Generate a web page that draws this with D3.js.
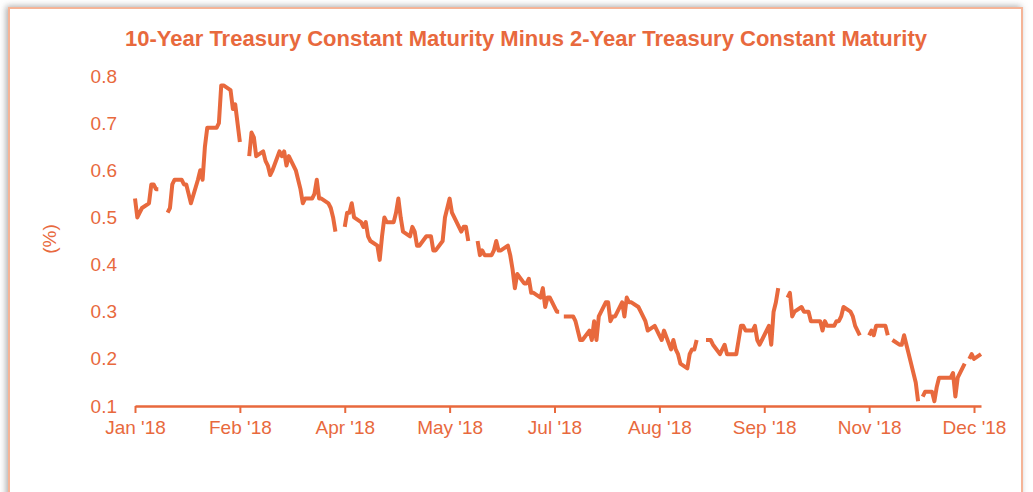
<!DOCTYPE html>
<html><head><meta charset="utf-8">
<script src="https://cdn.jsdelivr.net/npm/d3@7"></script>
<style>body{margin:0;background:#fff;overflow:hidden}</style>
</head><body>
<svg id="chart" width="1033" height="492"></svg>
<script>
const title = "10-Year Treasury Constant Maturity Minus 2-Year Treasury Constant Maturity";
const yLabel = "(%)";
const yTicks = [0.1, 0.2, 0.3, 0.4, 0.5, 0.6, 0.7, 0.8];
const xTicks = ["2018-01-02","2018-02-16","2018-04-02","2018-05-17","2018-07-01","2018-08-15","2018-09-29","2018-11-13","2018-12-28"];

const dates = [
"2018-01-02","2018-01-03","2018-01-04","2018-01-05","2018-01-08","2018-01-09","2018-01-10","2018-01-11","2018-01-12","2018-01-15","2018-01-16","2018-01-17","2018-01-18","2018-01-19","2018-01-22","2018-01-23","2018-01-24","2018-01-25","2018-01-26","2018-01-29","2018-01-30","2018-01-31",
"2018-02-01","2018-02-02","2018-02-05","2018-02-06","2018-02-07","2018-02-08","2018-02-09","2018-02-12","2018-02-13","2018-02-14","2018-02-15","2018-02-16","2018-02-19","2018-02-20","2018-02-21","2018-02-22","2018-02-23","2018-02-26","2018-02-27","2018-02-28",
"2018-03-01","2018-03-02","2018-03-05","2018-03-06","2018-03-07","2018-03-08","2018-03-09","2018-03-12","2018-03-13","2018-03-14","2018-03-15","2018-03-16","2018-03-19","2018-03-20","2018-03-21","2018-03-22","2018-03-23","2018-03-26","2018-03-27","2018-03-28","2018-03-29","2018-03-30",
"2018-04-02","2018-04-03","2018-04-04","2018-04-05","2018-04-06","2018-04-09","2018-04-10","2018-04-11","2018-04-12","2018-04-13","2018-04-16","2018-04-17","2018-04-18","2018-04-19","2018-04-20","2018-04-23","2018-04-24","2018-04-25","2018-04-26","2018-04-27","2018-04-30",
"2018-05-01","2018-05-02","2018-05-03","2018-05-04","2018-05-07","2018-05-08","2018-05-09","2018-05-10","2018-05-11","2018-05-14","2018-05-15","2018-05-16","2018-05-17","2018-05-18","2018-05-21","2018-05-22","2018-05-23","2018-05-24","2018-05-25","2018-05-28","2018-05-29","2018-05-30","2018-05-31",
"2018-06-01","2018-06-04","2018-06-05","2018-06-06","2018-06-07","2018-06-08","2018-06-11","2018-06-12","2018-06-13","2018-06-14","2018-06-15","2018-06-18","2018-06-19","2018-06-20","2018-06-21","2018-06-22","2018-06-25","2018-06-26","2018-06-27","2018-06-28","2018-06-29",
"2018-07-02","2018-07-03","2018-07-04","2018-07-05","2018-07-06","2018-07-09","2018-07-10","2018-07-11","2018-07-12","2018-07-13","2018-07-16","2018-07-17","2018-07-18","2018-07-19","2018-07-20","2018-07-23","2018-07-24","2018-07-25","2018-07-26","2018-07-27","2018-07-30","2018-07-31",
"2018-08-01","2018-08-02","2018-08-03","2018-08-06","2018-08-07","2018-08-08","2018-08-09","2018-08-10","2018-08-13","2018-08-14","2018-08-15","2018-08-16","2018-08-17","2018-08-20","2018-08-21","2018-08-22","2018-08-23","2018-08-24","2018-08-27","2018-08-28","2018-08-29","2018-08-30","2018-08-31",
"2018-09-03","2018-09-04","2018-09-05","2018-09-06","2018-09-07","2018-09-10","2018-09-11","2018-09-12","2018-09-13","2018-09-14","2018-09-17","2018-09-18","2018-09-19","2018-09-20","2018-09-21","2018-09-24","2018-09-25","2018-09-26","2018-09-27","2018-09-28",
"2018-10-01","2018-10-02","2018-10-03","2018-10-04","2018-10-05","2018-10-08","2018-10-09","2018-10-10","2018-10-11","2018-10-12","2018-10-15","2018-10-16","2018-10-17","2018-10-18","2018-10-19","2018-10-22","2018-10-23","2018-10-24","2018-10-25","2018-10-26","2018-10-29","2018-10-30","2018-10-31",
"2018-11-01","2018-11-02","2018-11-05","2018-11-06","2018-11-07","2018-11-08","2018-11-09","2018-11-12","2018-11-13","2018-11-14","2018-11-15","2018-11-16","2018-11-19","2018-11-20","2018-11-21","2018-11-22","2018-11-23","2018-11-26","2018-11-27","2018-11-28","2018-11-29","2018-11-30",
"2018-12-03","2018-12-04","2018-12-05","2018-12-06","2018-12-07","2018-12-10","2018-12-11","2018-12-12","2018-12-13","2018-12-14","2018-12-17","2018-12-18","2018-12-19","2018-12-20","2018-12-21","2018-12-24","2018-12-25","2018-12-26","2018-12-27","2018-12-28","2018-12-31"
];

const spread = [
0.54,0.50,0.51,0.52,0.53,0.57,0.57,0.56,0.56,null,0.51,0.52,0.57,0.58,0.58,0.57,0.57,0.55,0.53,0.58,0.60,0.58,
0.65,0.69,0.69,0.69,0.70,0.78,0.78,0.77,0.73,0.74,0.70,0.66,null,0.63,0.68,0.67,0.63,0.64,0.62,0.61,
0.59,0.60,0.64,0.63,0.64,0.61,0.63,0.60,0.58,0.56,0.53,0.54,0.54,0.55,0.58,0.54,0.54,0.53,0.52,0.50,0.47,null,
0.48,0.51,0.51,0.53,0.50,0.49,0.48,0.49,0.46,0.45,0.44,0.41,0.46,0.50,0.49,0.49,0.51,0.54,0.50,0.47,0.46,
0.48,0.47,0.44,0.44,0.46,0.46,0.46,0.43,0.43,0.45,0.50,0.52,0.54,0.51,0.48,0.47,0.48,0.48,0.45,null,0.45,0.42,0.43,
0.42,0.42,0.43,0.45,0.43,0.43,0.44,0.42,0.39,0.35,0.38,0.36,0.36,0.37,0.34,0.34,0.33,0.35,0.31,0.33,0.33,
0.30,0.30,null,0.29,0.29,0.29,0.28,0.26,0.24,0.24,0.26,0.24,0.28,0.24,0.29,0.32,0.32,0.28,0.29,0.29,0.32,0.29,
0.33,0.32,0.32,0.31,0.30,0.29,0.28,0.26,0.27,0.26,0.25,0.24,0.26,0.22,0.24,0.22,0.21,0.19,0.18,0.21,0.22,0.22,0.24,
null,0.24,0.24,0.24,0.23,0.21,0.22,0.23,0.21,0.21,0.21,0.24,0.27,0.27,0.26,0.26,0.27,0.24,0.23,0.24,
0.27,0.23,0.30,0.32,0.35,null,0.33,0.34,0.29,0.30,0.31,0.30,0.30,0.30,0.28,0.28,0.28,0.26,0.28,0.27,0.27,0.28,0.28,
0.29,0.31,0.30,0.29,0.27,0.26,0.25,null,0.25,0.26,0.25,0.27,0.27,0.27,0.25,null,0.24,0.23,0.23,0.25,0.23,0.21,
0.15,0.11,null,0.12,0.13,0.13,0.11,0.14,0.16,0.16,0.16,0.16,0.17,0.12,0.16,0.19,null,0.20,0.21,0.20,0.21
];

const color = "#E8693D";
const parse = d3.timeParse("%Y-%m-%d");
const data = dates.map((d, i) => ({ date: parse(d), value: spread[i] }));

const svg = d3.select("#chart");
const defs = svg.append("defs");
const f = defs.append("filter").attr("id", "sh").attr("x", "-5%").attr("y", "-5%").attr("width", "110%").attr("height", "110%");
f.append("feDropShadow").attr("dx", -2).attr("dy", -1).attr("stdDeviation", 3).attr("flood-color", "#777").attr("flood-opacity", 0.6);

svg.append("rect").attr("x", 0).attr("y", 0).attr("width", 1033).attr("height", 492).attr("fill", "#fff");
svg.append("rect").attr("x", 9).attr("y", 8).attr("width", 1013).attr("height", 540)
  .attr("fill", "#fff").attr("stroke", "#F5B497").attr("stroke-width", 2).attr("filter", "url(#sh)");

const x = d3.scaleTime().domain([parse("2018-01-02"), parse("2018-12-31")]).range([135, 981]);
const y = d3.scaleLinear().domain([0.1, 0.8]).range([406, 76]);

svg.append("text").attr("x", 526).attr("y", 46).attr("text-anchor", "middle")
  .attr("font-family", "Liberation Sans, Arial, sans-serif").attr("font-weight", "bold")
  .attr("font-size", 22).attr("fill", color).text(title);

// y tick labels
const yAxis = d3.axisLeft(y).tickValues(yTicks).tickFormat(d3.format(".1f")).tickSize(0).tickPadding(0);
const gy = svg.append("g").attr("transform", "translate(117,0)").call(yAxis);
gy.select(".domain").remove();
gy.selectAll("text").attr("font-family", "Liberation Sans, Arial, sans-serif").attr("font-size", 19).attr("fill", color);

// x axis
const xAxis = d3.axisBottom(x).tickValues(xTicks.map(parse)).tickFormat(d3.timeFormat("%b '%y")).tickSize(7).tickSizeOuter(0).tickPadding(8);
const gx = svg.append("g").attr("transform", "translate(0,406)").call(xAxis);
gx.select(".domain").attr("stroke", color).attr("stroke-width", 2.5);
gx.selectAll(".tick line").attr("stroke", color).attr("stroke-width", 2);
gx.selectAll("text").attr("font-family", "Liberation Sans, Arial, sans-serif").attr("font-size", 19).attr("fill", color);

svg.append("text").attr("transform", "translate(56,239) rotate(-90)").attr("text-anchor", "middle")
  .attr("font-family", "Liberation Sans, Arial, sans-serif").attr("font-size", 19).attr("fill", color).text(yLabel);

const line = d3.line().defined(d => d.value !== null).x(d => x(d.date)).y(d => y(d.value));
svg.append("path").datum(data).attr("d", line).attr("fill", "none").attr("stroke", color)
  .attr("stroke-width", 4).attr("stroke-linejoin", "round").attr("stroke-linecap", "butt");
</script>
</body></html>
